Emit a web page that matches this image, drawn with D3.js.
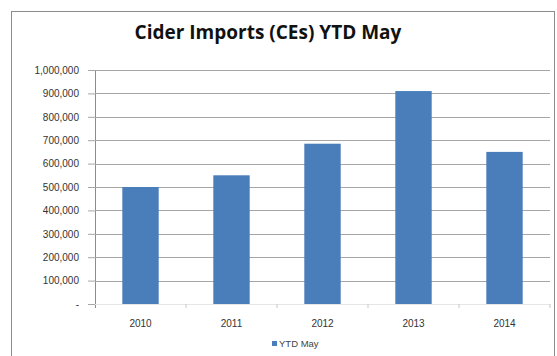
<!DOCTYPE html>
<html>
<head>
<meta charset="utf-8">
<script src="https://cdn.jsdelivr.net/npm/d3@7"></script>
<style>
  body { margin: 0; background: #fff; }
  svg { display: block; font-family: "Liberation Sans", "DejaVu Sans", sans-serif; }
</style>
</head>
<body>
<div id="chart"></div>
<script>
// chart data
const years = ["2010", "2011", "2012", "2013", "2014"];
const ytdMay = [500000, 550000, 685000, 910000, 650000];
const yTicks = [0, 100000, 200000, 300000, 400000, 500000, 600000, 700000, 800000, 900000, 1000000];
const seriesName = "YTD May";
const title = "Cider Imports (CEs) YTD May";

const W = 557, H = 356;
const plot = {left: 95, right: 550, top: 70, bottom: 304};

const svg = d3.select("#chart").append("svg")
    .attr("width", W)
    .attr("height", H);

// outer chart frame
svg.append("rect")
    .attr("x", 11.5).attr("y", 11.5)
    .attr("width", 543).attr("height", 360)
    .attr("fill", "#fff")
    .attr("stroke", "#8c8c8c");

svg.append("text")
    .attr("x", 268).attr("y", 39)
    .attr("text-anchor", "middle")
    .style("font-family", "'Open Sans', sans-serif")
    .style("font-weight", "bold")
    .style("font-size", "19px")
    .attr("fill", "#111")
    .text(title);

const x = d3.scaleBand()
    .domain(years)
    .range([plot.left, plot.right])
    .paddingInner(0.6)
    .paddingOuter(0.3);

const y = d3.scaleLinear()
    .domain([0, 1000000])
    .range([plot.bottom, plot.top]);

const fmt = v => v === 0 ? "-" : d3.format(",")(v);

// y axis with gridlines
const yAxis = svg.append("g")
    .attr("transform", "translate(" + plot.left + ",0)")
    .call(d3.axisLeft(y).tickValues(yTicks).tickSize(7).tickFormat(fmt));
yAxis.select(".domain").attr("stroke", "#8c8c8c").attr("d", "M0.5," + plot.top + "V" + (plot.bottom + 4));
yAxis.selectAll(".tick line").attr("stroke", "#a6a6a6");
yAxis.selectAll(".tick text")
    .attr("x", -16)
    .style("font-size", "10px")
    .attr("fill", "#333");

svg.append("g")
    .selectAll("line")
    .data(yTicks.filter(d => d > 0))
    .join("line")
    .attr("x1", plot.left).attr("x2", plot.right)
    .attr("y1", d => Math.round(y(d)) + 0.5)
    .attr("y2", d => Math.round(y(d)) + 0.5)
    .attr("stroke", "#a6a6a6");

// bars
svg.append("g")
    .selectAll("rect")
    .data(years)
    .join("rect")
    .attr("x", d => x(d))
    .attr("y", (d, i) => y(ytdMay[i]))
    .attr("width", x.bandwidth())
    .attr("height", (d, i) => plot.bottom - y(ytdMay[i]))
    .attr("fill", "#4a7ebb");

// category axis: ticks between categories
const xAxis = svg.append("g")
    .attr("transform", "translate(0," + plot.bottom + ")");
xAxis.append("line")
    .attr("x1", plot.left).attr("x2", plot.right)
    .attr("y1", 0.5).attr("y2", 0.5)
    .attr("stroke", "#e6e6e6");
xAxis.selectAll(".sep")
    .data(years)
    .join("line")
    .attr("class", "sep")
    .attr("x1", d => x(d) + x.bandwidth() + x.step() * 0.3)
    .attr("x2", d => x(d) + x.bandwidth() + x.step() * 0.3)
    .attr("y1", 0).attr("y2", 4)
    .attr("stroke", "#c8c8c8");
xAxis.selectAll("text")
    .data(years)
    .join("text")
    .attr("x", d => x(d) + x.bandwidth() / 2)
    .attr("y", 23)
    .attr("text-anchor", "middle")
    .style("font-size", "10px")
    .attr("fill", "#333")
    .text(d => d);

// legend
const legend = svg.append("g").attr("transform", "translate(272,341)");
legend.append("rect")
    .attr("width", 5).attr("height", 5)
    .attr("fill", "#4a7ebb");
legend.append("text")
    .attr("x", 7).attr("y", 5.5)
    .style("font-size", "9.5px")
    .attr("fill", "#444")
    .text(seriesName);
</script>
</body>
</html>
